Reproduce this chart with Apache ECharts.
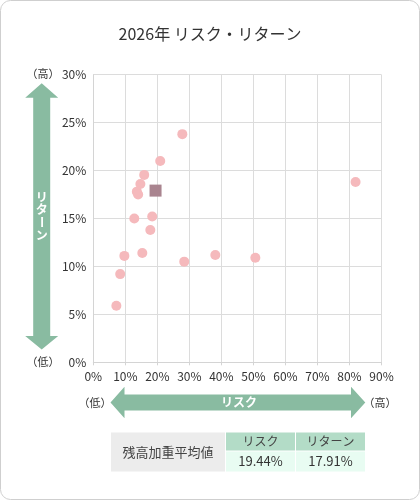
<!DOCTYPE html>
<html><head><meta charset="utf-8">
<script src="https://cdn.jsdelivr.net/npm/echarts@6/dist/echarts.min.js"></script>
<style>html,body{margin:0;padding:0;background:#fff;}#c{width:420px;height:500px;}</style>
</head><body><div id="c"></div>
<script>
const titleText = '2026年 リスク・リターン';
const riskValues   = [27.8, 20.9, 15.9, 14.7, 13.6, 14.0, 18.4, 12.8, 17.8, 15.3, 9.7, 28.4, 38.1, 50.6, 8.4, 7.2, 81.9];
const returnValues = [23.8, 21.0, 19.55, 18.6, 17.8, 17.5, 15.2, 15.0, 13.8, 11.4, 11.1, 10.5, 11.2, 10.9, 9.2, 5.9, 18.8];
const avgRisk = 19.44;
const avgReturn = 17.91;
const xTicks = [0, 10, 20, 30, 40, 50, 60, 70, 80, 90];
const yTicks = [0, 5, 10, 15, 20, 25, 30];
const tableLabel = '残高加重平均値';
const tableHeaders = ['リスク', 'リターン'];

const FONT = '"Noto Sans CJK JP", "Noto Sans", sans-serif';
const GREEN = '#89bba1';
const chart = echarts.init(document.getElementById('c'), null, {renderer: 'canvas'});

const points = riskValues.map((r, i) => [r, returnValues[i]]);

function txt(x, y, text, opt) {
  return Object.assign({type: 'text', x: x, y: y, style: Object.assign({
    text: text, fill: '#333', font: '11px ' + FONT, align: 'center', verticalAlign: 'middle'
  }, opt || {})});
}

const g = [];
// outer rounded border
g.push({type: 'rect', shape: {x: 0.5, y: 0.5, width: 419, height: 499, r: 10}, style: {fill: 'none', stroke: '#cfcfcf', lineWidth: 1}, z: -10});
// vertical arrow
const vx = 41.7;
g.push({type: 'polygon', shape: {points: [
  [vx, 83.3], [vx + 16.5, 97.7], [vx + 8.5, 97.7], [vx + 8.5, 336], [vx + 16.5, 336],
  [vx, 349.5], [vx - 16.5, 336], [vx - 8.5, 336], [vx - 8.5, 97.7], [vx - 16.5, 97.7]
]}, style: {fill: GREEN}});
const vChars = ['リ', 'タ', 'ー', 'ン'];
const vY = [197, 209, 222, 235];
vChars.forEach((ch, i) => {
  const el = txt(vx, vY[i], ch, {fill: '#fff', font: 'bold 12px ' + FONT});
  if (ch === 'ー') { el.rotation = -Math.PI / 2; el.originX = 0; el.originY = 0; }
  g.push(el);
});
g.push(txt(43, 74, '（高）'));
g.push(txt(43, 362, '（低）'));
// horizontal arrow
const hy = 402.5;
g.push({type: 'polygon', shape: {points: [
  [110.5, hy], [124.5, hy - 15.8], [124.5, hy - 8], [351, hy - 8], [351, hy - 15.8],
  [365.3, hy], [351, hy + 15.8], [351, hy + 8], [124.5, hy + 8], [124.5, hy + 15.8]
]}, style: {fill: GREEN}});
g.push(txt(239, hy, 'リスク', {fill: '#fff', font: 'bold 12px ' + FONT}));
g.push(txt(95, hy, '（低）'));
g.push(txt(380, hy, '（高）'));
// table
g.push({type: 'rect', shape: {x: 111, y: 432.5, width: 114, height: 39}, style: {fill: '#ececec'}});
g.push(txt(168, 452, tableLabel, {font: '13px ' + FONT, fill: '#444'}));
const cols = [[226, 69], [296, 69]];
const vals = [avgRisk.toFixed(2) + '%', avgReturn.toFixed(2) + '%'];
cols.forEach((c, i) => {
  g.push({type: 'rect', shape: {x: c[0], y: 432.5, width: c[1], height: 18}, style: {fill: '#b3dcc7'}});
  g.push({type: 'rect', shape: {x: c[0], y: 451.5, width: c[1], height: 20}, style: {fill: '#e8fcf2'}});
  g.push(txt(c[0] + c[1] / 2, 441.5, tableHeaders[i], {font: '12px ' + FONT, fill: '#444'}));
  g.push(txt(c[0] + c[1] / 2, 461.5, vals[i], {font: '13px ' + FONT, fill: '#333'}));
});

chart.setOption({
  animation: false,
  title: {text: titleText, left: 'center', top: 21, textStyle: {fontFamily: FONT, fontSize: 16, fontWeight: 'normal', color: '#333'}},
  grid: {left: 93.3, right: 38.5, top: 74.7, bottom: 137.7, containLabel: false},
  xAxis: {
    type: 'value', min: xTicks[0], max: xTicks[xTicks.length - 1], interval: 10,
    axisLine: {show: true, lineStyle: {color: '#d4d4d4'}},
    axisTick: {show: true, length: 3, lineStyle: {color: '#d4d4d4'}},
    splitLine: {show: true, lineStyle: {color: '#dcdcdc'}},
    axisLabel: {formatter: '{value}%', color: '#333', fontFamily: FONT, fontSize: 12, margin: 8}
  },
  yAxis: {
    type: 'value', min: yTicks[0], max: yTicks[yTicks.length - 1], interval: 5,
    axisLine: {show: true, lineStyle: {color: '#d4d4d4'}},
    axisTick: {show: false},
    splitLine: {show: true, lineStyle: {color: '#dcdcdc'}},
    axisLabel: {formatter: '{value}%', color: '#333', fontFamily: FONT, fontSize: 12, margin: 7}
  },
  series: [
    {type: 'scatter', data: points, symbol: 'circle', symbolSize: 10, itemStyle: {color: '#f5b9bc', opacity: 1}, z: 2},
    {type: 'scatter', data: [[avgRisk, avgReturn]], symbol: 'rect', symbolSize: 12, itemStyle: {color: '#a9848f', opacity: 1}, z: 3}
  ],
  graphic: g
});
</script></body></html>
